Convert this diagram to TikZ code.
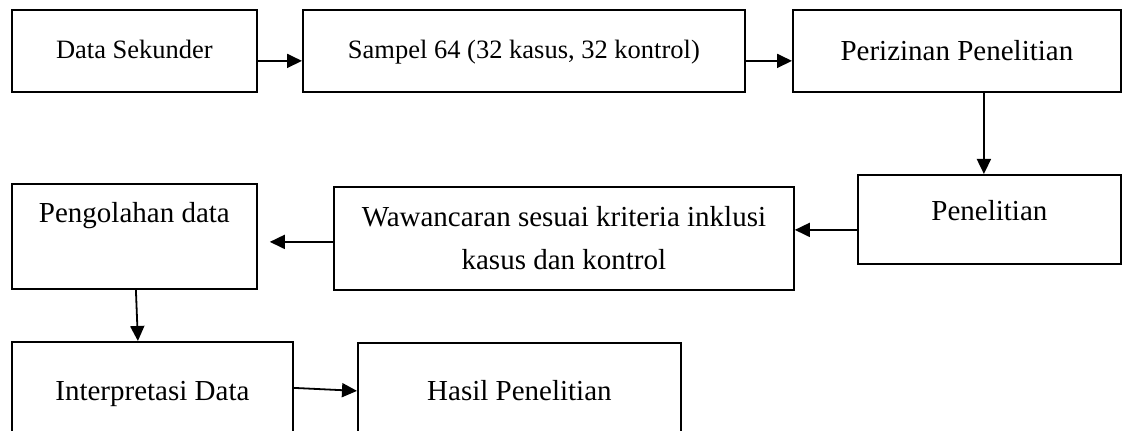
\documentclass[tikz,border=0pt]{standalone}
\usepackage{fontspec}
\setmainfont{Liberation Serif}
\usetikzlibrary{arrows.meta,calc}

\begin{document}
\begin{tikzpicture}[x=0.5pt, y=-0.5pt, line width=0.9pt, >={Triangle[length=7.5pt,width=7pt]},
	kotak/.style={draw, inner sep=0pt, anchor=north west, align=center},
	besar/.style={font=\fontsize{14.5pt}{21.5pt}\selectfont},
	kecil/.style={font=\fontsize{13.25pt}{16pt}\selectfont}]
	\clip (0,0) rectangle (1127,431);
	% baris atas
	\node[kotak, kecil, minimum width=122.5pt, text height=24.5pt, text depth=16.5pt] (ds) at (11,9) {Data Sekunder};
	\node[kotak, kecil, minimum width=221pt, text height=24.5pt, text depth=16.5pt] (sampel) at (302,9) {Sampel 64 (32 kasus, 32 kontrol)};
	\node[kotak, besar, minimum width=164pt, text height=25.5pt, text depth=15.5pt] (izin) at (792,9) {Perizinan Penelitian};
	% baris tengah
	\node[kotak, besar, minimum width=131.5pt, text height=23pt, text depth=21.5pt] (pen) at (857,174) {Penelitian};
	\node[kotak, besar, minimum width=230pt, text height=41.5pt, text depth=10pt] (waw) at (333,186) {Wawancaran sesuai kriteria inklusi\\kasus dan kontrol};
	\node[kotak, besar, minimum width=122.5pt, text height=19.5pt, text depth=33pt] (peng) at (11,183) {Pengolahan data};
	% baris bawah
	\node[kotak, besar, minimum width=140.5pt, text height=29.5pt, text depth=20pt] (interp) at (11,341) {Interpretasi Data};
	\node[kotak, besar, minimum width=161.5pt, text height=29pt, text depth=20pt] (hasil) at (357,342) {Hasil Penelitian};
	\coordinate (ujung) at ($(peng.east)+(12,5.5)$);
	% panah
	\draw[->] ($(ds.east)+(0,10)$) -- ($(sampel.west)+(0,10)$);
	\draw[->] ($(sampel.east)+(0,10)$) -- ($(izin.west)+(0,10)$);
	\draw[->] ($(izin.south)+(27,0)$) -- ($(pen.north)+(-5.5,0)$);
	\draw[->] ($(pen.west)+(0,10.5)$) -- ($(waw.east)+(0,-8.5)$);
	\draw[->] ($(waw.west)+(0,3.5)$) -- (ujung);
	\draw[->] ($(peng.south)+(1.5,0)$) -- ($(interp.north)+(-14.5,0)$);
	\draw[->] ($(interp.east)+(0,-3.5)$) -- ($(hasil.west)+(0,-1)$);
\end{tikzpicture}
\end{document}
